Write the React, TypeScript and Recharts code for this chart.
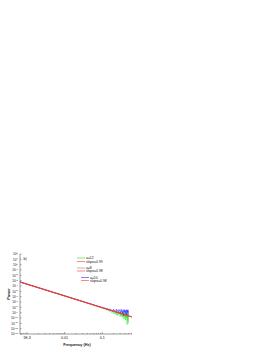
import React from 'react';
import { LineChart, Line, XAxis, YAxis } from 'recharts';

const frequency = [
  0.00065, 0.0008, 0.001, 0.0013, 0.0016, 0.002, 0.0025, 0.003, 0.004, 0.005, 0.0065,
  0.008, 0.01, 0.013, 0.016, 0.02, 0.025, 0.03, 0.035, 0.04, 0.045, 0.05,
  0.06, 0.065, 0.07, 0.075, 0.08, 0.085, 0.09, 0.095,
  0.1, 0.11, 0.12, 0.13, 0.14, 0.15, 0.16, 0.17, 0.18, 0.19, 0.2,
  0.21, 0.22, 0.23, 0.24, 0.25, 0.26, 0.27, 0.28, 0.29, 0.3,
  0.31, 0.32, 0.33, 0.34, 0.35, 0.36, 0.37, 0.38, 0.39, 0.4,
  0.41, 0.42, 0.43, 0.44, 0.45, 0.46, 0.47, 0.48, 0.49, 0.5,
];

const powerA12 = [
  5.4e-4, 3.45e-4, 2.1e-4, 1.19e-4, 7.6e-5, 4.6e-5, 2.85e-5, 1.9e-5, 1.0e-5, 6.1e-6, 3.5e-6,
  2.2e-6, 1.35e-6, 7.5e-7, 4.8e-7, 2.9e-7, 1.8e-7, 1.2e-7, 8.4e-8, 6.3e-8, 4.8e-8, 3.8e-8,
  2.5e-8, 2.1e-8, 1.75e-8, 1.5e-8, 1.25e-8, 1.1e-8, 9.5e-9, 7.5e-9,
  7.0e-9, 5.4e-9, 4.2e-9, 4.5e-9, 2.4e-9, 3.5e-9, 1.5e-9, 2.7e-9, 1.0e-9, 2.1e-9, 7.0e-10,
  1.8e-9, 5.0e-10, 1.6e-9, 3.5e-10, 1.4e-9, 3.0e-10, 1.3e-9, 5.0e-10, 1.2e-9, 1.8e-10,
  1.1e-9, 2.5e-10, 1.0e-9, 1.2e-10, 9.0e-10, 2.0e-10, 8.5e-10, 6.0e-11, 8.0e-10, 1.5e-10,
  7.5e-10, 4.0e-11, 7.0e-10, 1.0e-10, 6.5e-10, 6.0e-12, 6.5e-10, 3.0e-11, 6.0e-10, 1.0e-11,
];

const powerA8 = [
  5.6e-4, 3.56e-4, 2.18e-4, 1.22e-4, 7.8e-5, 4.75e-5, 2.9e-5, 1.95e-5, 1.03e-5, 6.3e-6, 3.55e-6,
  2.25e-6, 1.38e-6, 7.7e-7, 4.9e-7, 3.0e-7, 1.83e-7, 1.23e-7, 8.75e-8, 6.5e-8, 5.0e-8, 4.0e-8,
  2.8e-8, 2.0e-8, 2.0e-8, 1.45e-8, 1.5e-8, 1.1e-8, 1.2e-8, 8.5e-9,
  9.5e-9, 6.2e-9, 6.5e-9, 4.2e-9, 4.8e-9, 3.0e-9, 3.7e-9, 2.2e-9, 2.9e-9, 1.7e-9, 2.4e-9,
  1.35e-9, 2.0e-9, 1.1e-9, 1.7e-9, 9.0e-10, 1.5e-9, 8.0e-10, 1.3e-9, 6.5e-10, 1.2e-9,
  5.5e-10, 1.1e-9, 4.8e-10, 1.0e-9, 4.2e-10, 9.0e-10, 3.8e-10, 8.5e-10, 3.3e-10, 8.0e-10,
  3.0e-10, 7.5e-10, 2.6e-10, 7.0e-10, 2.4e-10, 6.5e-10, 2.2e-10, 6.0e-10, 2.0e-10, 5.8e-10, 1.9e-10,
];

const powerA10 = [
  6.2e-4, 3.9e-4, 2.4e-4, 1.34e-4, 8.6e-5, 5.2e-5, 3.2e-5, 2.1e-5, 1.13e-5, 6.9e-6, 3.9e-6,
  2.45e-6, 1.5e-6, 8.4e-7, 5.3e-7, 3.3e-7, 2.0e-7, 1.34e-7, 9.5e-8, 7.1e-8, 5.4e-8, 4.3e-8,
  2.9e-8, 2.1e-8, 2.2e-8, 1.5e-8, 1.7e-8, 1.1e-8, 1.4e-8, 8.5e-9,
  1.15e-8, 6.2e-9, 8.1e-9, 4.3e-9, 6.6e-9, 3.0e-9, 5.3e-9, 2.4e-9, 3.6e-9, 1.9e-9, 4.4e-9,
  2.6e-9, 3.0e-9, 1.3e-9, 4.8e-9, 1.8e-9, 2.7e-9, 9.0e-10, 3.9e-9, 2.0e-9, 2.5e-9,
  8.0e-10, 4.3e-9, 1.5e-9, 2.2e-9, 7.0e-10, 3.6e-9, 2.5e-10, 2.8e-9, 1.2e-9, 4.0e-9,
  9.0e-10, 2.3e-9, 6.5e-10, 3.4e-9, 3.5e-10, 2.9e-9, 1.1e-9, 3.7e-9, 6.0e-10, 2.6e-9,
];

const fitFrequency = [0.00065, 0.62];
const fitA12 = [5.4e-4, 1.5e-10];
const fitA8 = [5.6e-4, 1.57e-10];
const fitA10 = [5.8e-4, 1.65e-10];

const xMajorTicks = [0.001, 0.01, 0.1];
const xMajorLabels = ['1E-3', '0.01', '0.1'];
const xAllTicks = [
  0.0007, 0.0008, 0.0009, 0.001, 0.002, 0.003, 0.004, 0.005, 0.006, 0.007, 0.008, 0.009,
  0.01, 0.02, 0.03, 0.04, 0.05, 0.06, 0.07, 0.08, 0.09, 0.1, 0.2, 0.3, 0.4, 0.5, 0.6,
];
const yTicks = [1e2, 1e1, 1e0, 1e-1, 1e-2, 1e-3, 1e-4, 1e-5, 1e-6, 1e-7, 1e-8, 1e-9, 1e-10, 1e-11, 1e-12, 1e-13];
const yExponents = ['2', '1', '0', '-1', '-2', '-3', '-4', '-5', '-6', '-7', '-8', '-9', '-10', '-11', '-12', '-13'];

const legendItems = [
  { label: 'a=12', color: '#22dd22', x: 77, y: 258 },
  { label: 'slope=0.99', color: '#ff3333', x: 77, y: 261.5 },
  { label: 'a=8', color: '#888888', x: 77, y: 268 },
  { label: 'slope=0.98', color: '#ff3333', x: 77, y: 271 },
  { label: 'a=10', color: '#2222ff', x: 81, y: 277.5 },
  { label: 'slope=0.98', color: '#ff3333', x: 81, y: 280.5 },
];

const FONT = '"Liberation Sans", Arial, sans-serif';
const AXIS = '#555555';

const build = (xs: number[], ys: number[]) => xs.map((f, i) => ({ f, p: ys[i] }));
const dataA12 = build(frequency, powerA12);
const dataA8 = build(frequency, powerA8);
const dataA10 = build(frequency, powerA10);
const dFitA12 = build(fitFrequency, fitA12);
const dFitA8 = build(fitFrequency, fitA8);
const dFitA10 = build(fitFrequency, fitA10);

const BottomTick = (props: any) => {
  const { x, y, payload } = props;
  const idx = xMajorTicks.indexOf(payload.value);
  const major = idx >= 0;
  return (
    <g>
      <line x1={x} x2={x} y1={y} y2={y - (major ? 2 : 1)} stroke={AXIS} strokeWidth={0.5} />
      {major && (
        <text x={x} y={y + 5} fontSize={3.6} fontFamily={FONT} textAnchor="middle" fill="#111">
          {xMajorLabels[idx]}
        </text>
      )}
    </g>
  );
};

const TopTick = (props: any) => {
  const { x, y, payload } = props;
  const major = xMajorTicks.indexOf(payload.value) >= 0;
  return <line x1={x} x2={x} y1={y} y2={y + (major ? 2 : 1)} stroke={AXIS} strokeWidth={0.5} />;
};

const LeftTick = (props: any) => {
  const { x, y, payload } = props;
  const idx = yTicks.indexOf(payload.value);
  return (
    <g>
      <line x1={x} x2={x + 1.5} y1={y} y2={y} stroke={AXIS} strokeWidth={0.5} />
      <text x={x - 2.3} y={y + 1.3} fontSize={3.2} fontFamily={FONT} textAnchor="end" fill="#111">
        10
        <tspan fontSize={2.2} dy={-1.4}>{yExponents[idx]}</tspan>
      </text>
    </g>
  );
};

const RightTick = (props: any) => {
  const { x, y } = props;
  return <line x1={x} x2={x - 1.5} y1={y} y2={y} stroke={AXIS} strokeWidth={0.5} />;
};

export default function App() {
  return (
    <div style={{ position: 'absolute', left: 0, top: 0, width: 273, height: 353, background: '#fff' }}>
      <LineChart width={273} height={353} margin={{ top: 254, right: 141, bottom: 0, left: 0 }}>
        <XAxis
          dataKey="f"
          type="number"
          scale="log"
          domain={[0.00065, 0.62]}
          allowDataOverflow
          ticks={xAllTicks}
          interval={0}
          tick={<BottomTick />}
          tickLine={false}
          tickSize={0}
          tickMargin={0}
          height={19}
          stroke={AXIS}
          strokeWidth={0.6}
        />
        <XAxis
          xAxisId="top"
          orientation="top"
          dataKey="f"
          type="number"
          scale="log"
          domain={[0.00065, 0.62]}
          allowDataOverflow
          ticks={xAllTicks}
          interval={0}
          tick={<TopTick />}
          tickLine={false}
          tickSize={0}
          tickMargin={0}
          height={0}
          stroke={AXIS}
          strokeWidth={0.6}
        />
        <YAxis
          dataKey="p"
          type="number"
          scale="log"
          domain={[1e-13, 1e2]}
          allowDataOverflow
          ticks={yTicks}
          interval={0}
          tick={<LeftTick />}
          tickLine={false}
          tickSize={0}
          tickMargin={0}
          width={20}
          stroke={AXIS}
          strokeWidth={0.6}
        />
        <YAxis
          yAxisId="right"
          orientation="right"
          dataKey="p"
          type="number"
          scale="log"
          domain={[1e-13, 1e2]}
          allowDataOverflow
          ticks={yTicks}
          interval={0}
          tick={<RightTick />}
          tickLine={false}
          tickSize={0}
          tickMargin={0}
          width={0}
          stroke={AXIS}
          strokeWidth={0.6}
        />
        <Line data={dataA8} dataKey="p" stroke="#888888" strokeWidth={0.5} dot={false} isAnimationActive={false} />
        <Line data={dataA12} dataKey="p" stroke="#22dd22" strokeWidth={0.5} dot={false} isAnimationActive={false} />
        <Line data={dataA10} dataKey="p" stroke="#2222ff" strokeWidth={0.5} dot={false} isAnimationActive={false} />
        <Line data={dFitA12} dataKey="p" stroke="#ff3333" strokeWidth={0.6} dot={false} isAnimationActive={false} />
        <Line data={dFitA8} dataKey="p" stroke="#ff3333" strokeWidth={0.6} dot={false} isAnimationActive={false} />
        <Line data={dFitA10} dataKey="p" stroke="#ff3333" strokeWidth={0.6} dot={false} isAnimationActive={false} />
      </LineChart>
      <svg width={273} height={353} style={{ position: 'absolute', left: 0, top: 0, pointerEvents: 'none' }}>
        <text x={23.5} y={259.5} fontSize={3.6} fontFamily={FONT} fill="#111">b)</text>
        {legendItems.map((it, i) => (
          <g key={i}>
            <line x1={it.x} x2={it.x + 8} y1={it.y} y2={it.y} stroke={it.color} strokeWidth={0.6} />
            <text x={it.x + 9} y={it.y + 1.2} fontSize={3.4} fontFamily={FONT} fill="#111">{it.label}</text>
          </g>
        ))}
        <text x={9.5} y={294} fontSize={3.8} fontFamily={FONT} fontWeight="bold" fill="#111" textAnchor="middle" transform="rotate(-90 9.5 294)">Power</text>
        <text x={77} y={345.5} fontSize={3.8} fontFamily={FONT} fontWeight="bold" fill="#111" textAnchor="middle">Frequency (Hz)</text>
      </svg>
    </div>
  );
}
